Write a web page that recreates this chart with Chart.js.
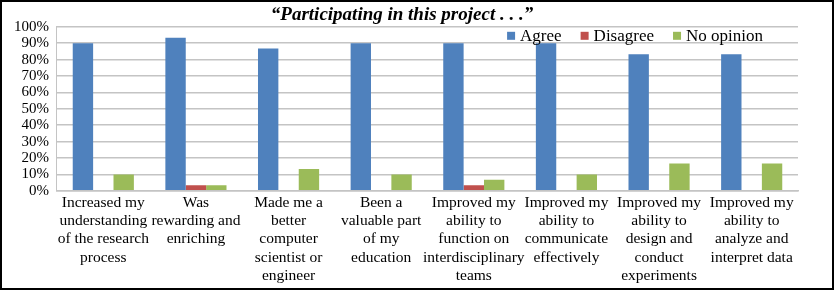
<!DOCTYPE html>
<html>
<head>
<meta charset="utf-8">
<script src="https://cdn.jsdelivr.net/npm/chart.js@4/dist/chart.umd.min.js"></script>
<style>
  html, body { margin: 0; padding: 0; background: #fff; }
  #wrap {
    position: relative;
    box-sizing: border-box;
    width: 834px; height: 290px;
    border: 2px solid #000;
    background: #fff;
  }
</style>
</head>
<body>
<div id="wrap"><canvas id="myChart"></canvas></div>
<script>
const categories = [
  ["Increased my", "understanding", "of the research", "process"],
  ["Was", "rewarding and", "enriching"],
  ["Made me a", "better", "computer", "scientist or", "engineer"],
  ["Been a", "valuable part", "of my", "education"],
  ["Improved my", "ability to", "function on", "interdisciplinary", "teams"],
  ["Improved my", "ability to", "communicate", "effectively"],
  ["Improved my", "ability to", "design and", "conduct", "experiments"],
  ["Improved my", "ability to", "analyze and", "interpret data"]
];
const agree = [90, 93.3, 86.7, 90, 90, 90, 83.3, 83.3];
const disagree = [0, 3.3, 0, 0, 3.3, 0, 0, 0];
const noOpinion = [10, 3.3, 13.3, 10, 6.7, 10, 16.7, 16.7];
const yTicks = [0, 10, 20, 30, 40, 50, 60, 70, 80, 90, 100];

const serif = "'Liberation Serif', 'Times New Roman', serif";

// legend drawn inside the plot area, top right, like the original
const insideLegend = {
  id: 'insideLegend',
  afterDraw(chart) {
    const ctx = chart.ctx;
    const area = chart.chartArea;
    ctx.save();
    ctx.font = '17px ' + serif;
    ctx.textBaseline = 'middle';
    const items = chart.data.datasets.map(ds => ({
      text: ds.label, color: ds.backgroundColor, w: ctx.measureText(ds.label).width
    }));
    let total = 0;
    items.forEach((it, i) => { total += 8 + 5 + it.w + (i < items.length - 1 ? 19 : 0); });
    let x = area.right - 35 - total;
    const y = area.top + 9;
    items.forEach(it => {
      ctx.fillStyle = it.color;
      ctx.fillRect(x, y - 4, 8, 8);
      x += 13;
      ctx.fillStyle = '#000';
      ctx.fillText(it.text, x, y + 1);
      x += it.w + 19;
    });
    ctx.restore();
  }
};

new Chart(document.getElementById('myChart'), {
  type: 'bar',
  data: {
    labels: categories,
    datasets: [
      { label: 'Agree', data: agree, backgroundColor: '#4F81BD' },
      { label: 'Disagree', data: disagree, backgroundColor: '#C0504D' },
      { label: 'No opinion', data: noOpinion, backgroundColor: '#9BBB59' }
    ]
  },
  plugins: [insideLegend],
  options: {
    responsive: true,
    maintainAspectRatio: false,
    animation: false,
    layout: { padding: { left: 4, right: 34, top: 0, bottom: 0 } },
    datasets: {
      bar: { categoryPercentage: 0.66, barPercentage: 1.0 }
    },
    plugins: {
      title: {
        display: true,
        text: '\u201CParticipating in this project . . .\u201D',
        color: '#000',
        font: { family: serif, size: 19, style: 'italic', weight: 'bold' },
        padding: { top: 2, bottom: 0 }
      },
      legend: { display: false },
      tooltip: { enabled: false }
    },
    scales: {
      y: {
        min: 0,
        max: 100,
        afterBuildTicks: function(axis) {
          axis.ticks = yTicks.map(v => ({ value: v }));
        },
        ticks: {
          color: '#000',
          font: { family: serif, size: 15 },
          padding: 8,
          autoSkip: false,
          callback: v => v + '%'
        },
        grid: { color: '#c4c4c4', lineWidth: 1.5, drawTicks: false },
        border: { color: '#c4c4c4' }
      },
      x: {
        ticks: {
          color: '#000',
          font: { family: serif, size: 15.5, lineHeight: 1.19 },
          maxRotation: 0,
          autoSkip: false,
          padding: 2.5
        },
        grid: { display: false, drawTicks: false },
        border: { color: '#c4c4c4', width: 1.5 }
      }
    }
  }
});
</script>
</body>
</html>
